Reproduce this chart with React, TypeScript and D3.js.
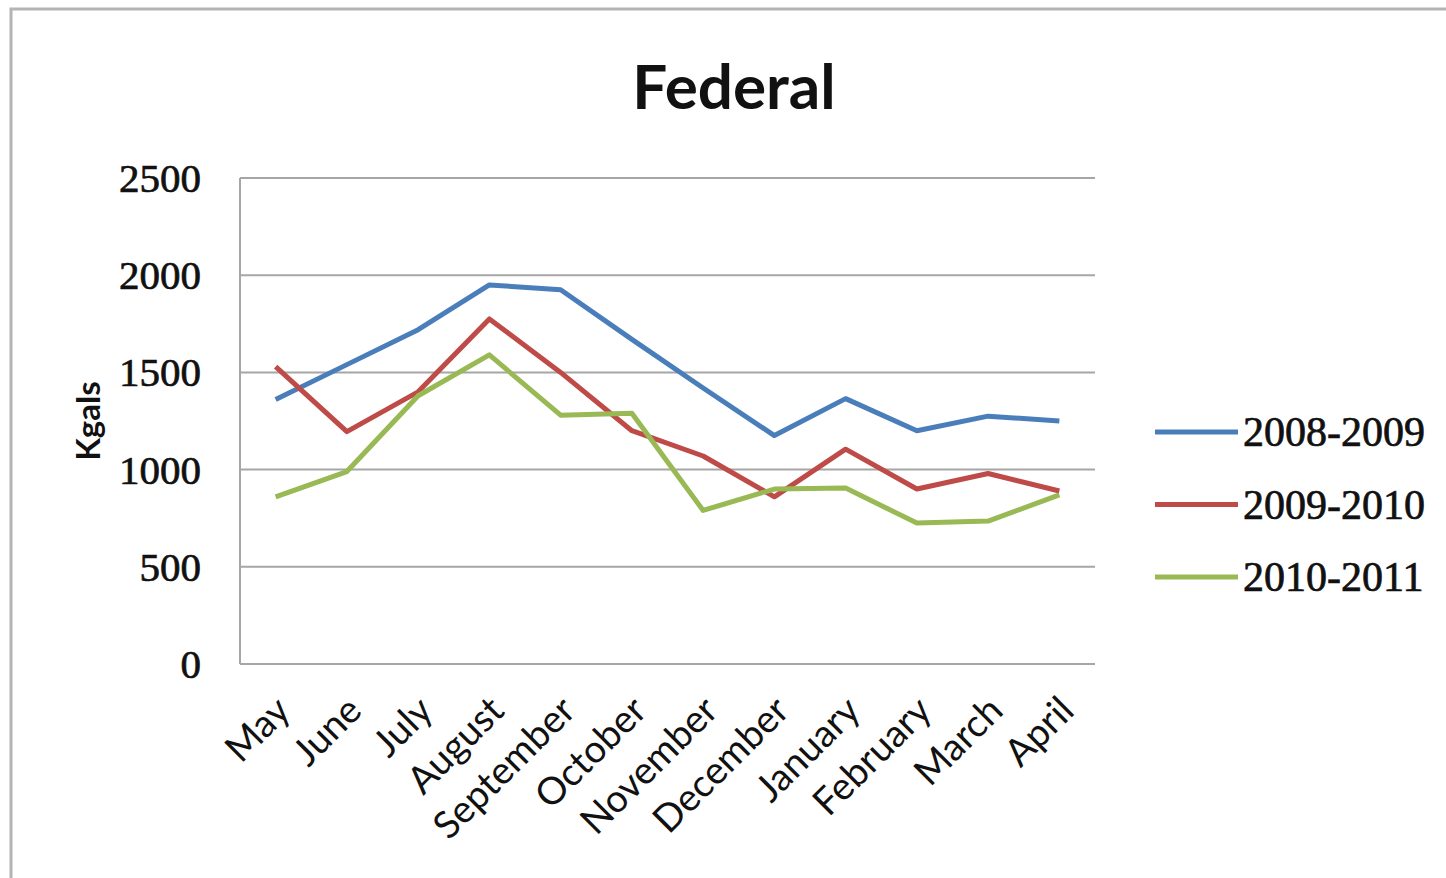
import React from 'react'
import * as d3 from 'd3'

// Monthly usage, fiscal year May–April (Kgals)
const months = [
  'May', 'June', 'July', 'August', 'September', 'October',
  'November', 'December', 'January', 'February', 'March', 'April',
]
const fy2008 = [1360, 1540, 1720, 1950, 1925, 1670, 1420, 1175, 1365, 1200, 1275, 1250]
const fy2009 = [1530, 1195, 1400, 1775, 1500, 1200, 1070, 860, 1105, 900, 980, 890]
const fy2010 = [860, 990, 1380, 1590, 1280, 1290, 790, 900, 905, 725, 735, 870]
const seriesNames = ['2008-2009', '2009-2010', '2010-2011']
const seriesColors = ['#4a7ebb', '#be4b48', '#98b954']
const yTicks = [0, 500, 1000, 1500, 2000, 2500]

const W = 1446
const H = 878
const plot = { left: 240, right: 1095, top: 178, bottom: 664 }

export default function App() {
  const x = d3.scaleBand<string>().domain(months).range([plot.left, plot.right])
  const y = d3.scaleLinear().domain([0, 2500]).range([plot.bottom, plot.top])
  const line = d3
    .line<number>()
    .x((_, i) => (x(months[i]) ?? 0) + x.bandwidth() / 2)
    .y((d) => y(d))

  const series = [fy2008, fy2009, fy2010]
  const serif = '"Liberation Serif", serif'
  const sans = 'Lato, "Open Sans", sans-serif'

  return (
    <svg
      width={W}
      height={H}
      style={{ position: 'absolute', left: 0, top: 0, background: '#fff' }}
    >
      {/* outer frame */}
      <rect x={11} y={9} width={W + 10} height={H + 10} fill="#fff" stroke="#b4b4b4" strokeWidth={3} />

      <text x={734} y={109} textAnchor="middle" fontFamily={sans} fontWeight={700} fontSize={62} fill="#111">
        Federal
      </text>

      {/* gridlines */}
      {yTicks.map((t) => (
        <line key={t} x1={plot.left} x2={plot.right} y1={y(t)} y2={y(t)} stroke="#a6a6a6" strokeWidth={2} />
      ))}
      <line x1={plot.left} x2={plot.left} y1={plot.top} y2={plot.bottom} stroke="#a6a6a6" strokeWidth={2} />

      {/* y tick labels */}
      {yTicks.map((t) => (
        <text
          key={t}
          x={201}
          y={y(t)}
          dy="0.34em"
          textAnchor="end"
          fontFamily={serif}
          fontSize={41}
          fill="#111"
          stroke="#111"
          strokeWidth={0.7}
        >
          {t}
        </text>
      ))}

      <text
        transform={`translate(100,${421}) rotate(-90)`}
        textAnchor="middle"
        fontFamily={sans}
        fontWeight={700}
        fontSize={33}
        fill="#111"
      >
        Kgals
      </text>

      {/* category labels */}
      {months.map((m) => {
        const cx = (x(m) ?? 0) + x.bandwidth() / 2
        return (
          <text
            key={m}
            transform={`translate(${cx - 2},${694}) rotate(-45)`}
            textAnchor="end"
            dy="0.7em"
            fontFamily={sans}
            fontSize={38}
            fill="#111"
          >
            {m}
          </text>
        )
      })}

      {/* lines */}
      {series.map((s, i) => (
        <path
          key={seriesNames[i]}
          d={line(s) ?? ''}
          fill="none"
          stroke={seriesColors[i]}
          strokeWidth={5}
          strokeLinejoin="round"
        />
      ))}

      {/* legend */}
      {seriesNames.map((n, i) => {
        const ly = 432 + i * 72.5
        return (
          <g key={n}>
            <line x1={1155} x2={1238} y1={ly} y2={ly} stroke={seriesColors[i]} strokeWidth={5} />
            <text
              x={1243}
              y={ly}
              dy="0.34em"
              fontFamily={serif}
              fontSize={42}
              fill="#111"
              stroke="#111"
              strokeWidth={0.7}
            >
              {n}
            </text>
          </g>
        )
      })}
    </svg>
  )
}
